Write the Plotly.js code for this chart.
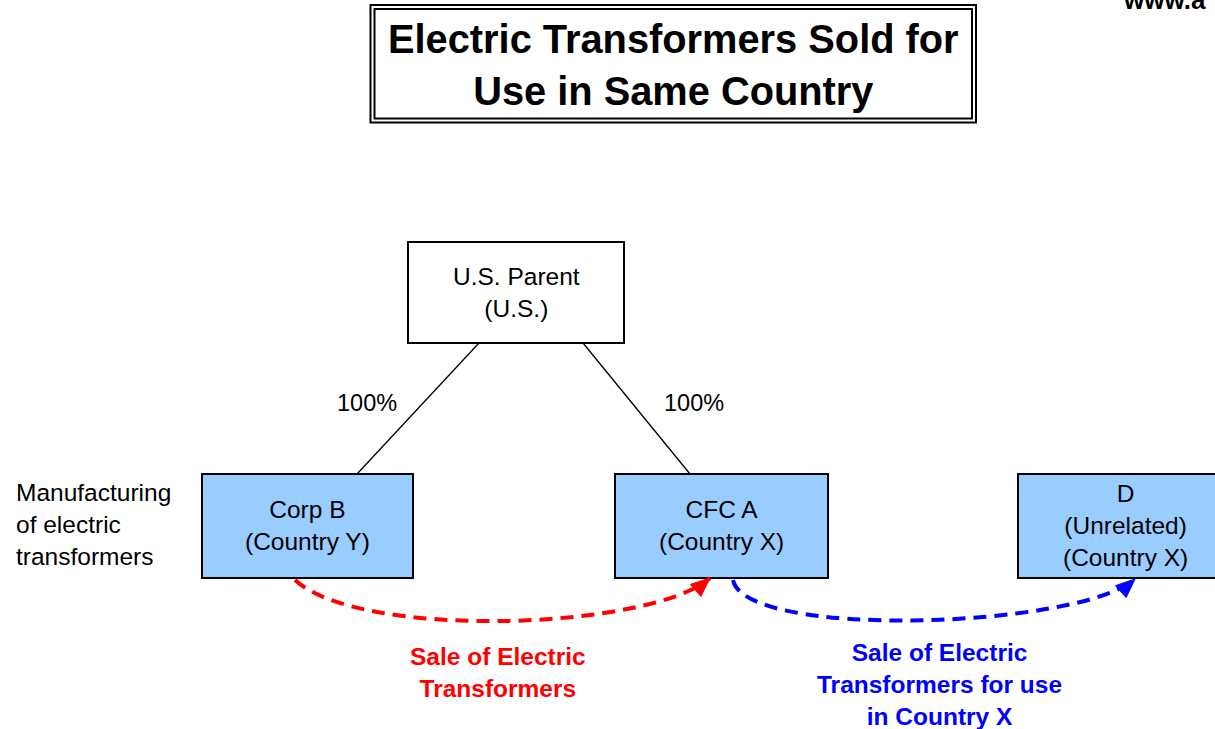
<!DOCTYPE html>
<html>
<head>
<meta charset="utf-8">
<script src="https://cdn.plot.ly/plotly-3.0.1.min.js"></script>
<style>html,body{margin:0;padding:0;background:#fff;}#chart{width:1215px;height:729px;}</style>
</head>
<body>
<div id="chart"></div>
<script>
// ---- content ----
const titleLines = ['Electric Transformers Sold for', 'Use in Same Country'];
const nodeLabels = ['U.S. Parent<br>(U.S.)', 'Corp B<br>(Country Y)', 'CFC A<br>(Country X)', 'D<br>(Unrelated)<br>(Country X)'];
const ownershipLabels = ['100%', '100%'];
const sideNote = ['Manufacturing', 'of electric', 'transformers'];
const flowLabels = ['Sale of Electric<br>Transformers', 'Sale of Electric<br>Transformers for use<br>in Country X'];
const flowColors = ['#ff0000', '#0000ff'];
const watermark = 'www.a';

// ---- layout geometry (pixel-space diagram) ----
const W = 1215, H = 729;
const FONT = 'Liberation Sans, Arial, sans-serif';
const boxes = [
  {x0: 408, x1: 624, y0: 242, y1: 343, fill: '#ffffff', tx: 516},
  {x0: 202, x1: 413, y0: 474, y1: 578, fill: '#99ccff', tx: 307.5},
  {x0: 615, x1: 828, y0: 474, y1: 578, fill: '#99ccff', tx: 721.5},
  {x0: 1018, x1: 1240, y0: 474, y1: 578, fill: '#99ccff', tx: 1125}
];
const connectors = [
  {x0: 479, y0: 343, x1: 357, y1: 474, lx: 367, ly: 403},
  {x0: 583, y0: 343, x1: 690, y1: 474, lx: 694, ly: 403}
];
const curves = [
  {p: [[295, 580], [360, 640], [650, 630], [710, 578]], lx: 498, ly: 672},
  {p: [[733, 580], [745, 640], [1080, 628], [1135, 579]], lx: 939, ly: 684}
];

const shapes = [];
const annotations = [];

// title double-border box
shapes.push({type: 'rect', xref: 'x', yref: 'y', x0: 370.5, x1: 976, y0: 5, y1: 122.5,
  line: {color: '#000', width: 2}, fillcolor: '#fff'});
shapes.push({type: 'rect', xref: 'x', yref: 'y', x0: 374.5, x1: 972, y0: 9, y1: 118.5,
  line: {color: '#000', width: 2}, fillcolor: 'rgba(0,0,0,0)'});
annotations.push({x: 673, y: 64.5, xref: 'x', yref: 'y', showarrow: false,
  text: '<b>' + titleLines.join('<br>') + '</b>',
  font: {family: FONT, size: 39.8, color: '#000'}, align: 'center'});

// connectors
connectors.forEach((c, i) => {
  shapes.push({type: 'line', xref: 'x', yref: 'y', x0: c.x0, y0: c.y0, x1: c.x1, y1: c.y1,
    line: {color: '#000', width: 1.3}});
  annotations.push({x: c.lx, y: c.ly, xref: 'x', yref: 'y', showarrow: false,
    text: ownershipLabels[i], font: {family: FONT, size: 23.5, color: '#000'}});
});

// boxes
boxes.forEach((b, i) => {
  shapes.push({type: 'rect', xref: 'x', yref: 'y', x0: b.x0, x1: b.x1, y0: b.y0, y1: b.y1,
    line: {color: '#000', width: 2}, fillcolor: b.fill});
  annotations.push({x: b.tx, y: (b.y0 + b.y1) / 2 - 0.5, xref: 'x', yref: 'y', showarrow: false,
    text: nodeLabels[i], font: {family: FONT, size: 24.5, color: '#000'}, align: 'center'});
});

// side note
annotations.push({x: 14, y: 524, xref: 'x', yref: 'y', xanchor: 'left', showarrow: false,
  text: sideNote.join('<br>'), align: 'left', font: {family: FONT, size: 24.5, color: '#000'}});

// curved dashed flows with arrowheads
curves.forEach((c, i) => {
  const [p0, p1, p2, p3] = c.p;
  shapes.push({type: 'path', xref: 'x', yref: 'y',
    path: `M ${p0[0]} ${p0[1]} C ${p1[0]} ${p1[1]}, ${p2[0]} ${p2[1]}, ${p3[0]} ${p3[1]}`,
    line: {color: flowColors[i], width: 4, dash: '13px,8px'}});
  let dx = p3[0] - p2[0], dy = p3[1] - p2[1];
  const L = Math.hypot(dx, dy); dx /= L; dy /= L;
  const len = 19, half = 8;
  const bx = p3[0] - len * dx, by = p3[1] - len * dy;
  const nx = -dy, ny = dx;
  shapes.push({type: 'path', xref: 'x', yref: 'y',
    path: `M ${p3[0]} ${p3[1]} L ${bx + half * nx} ${by + half * ny} L ${bx - half * nx} ${by - half * ny} Z`,
    fillcolor: flowColors[i], line: {color: flowColors[i], width: 1}});
  annotations.push({x: c.lx, y: c.ly, xref: 'x', yref: 'y', showarrow: false,
    text: '<b>' + flowLabels[i] + '</b>', align: 'center',
    font: {family: FONT, size: 24.5, color: flowColors[i]}});
});

// cropped watermark at top right (the reference shows it cut by the top edge)
annotations.push({x: 1121, y: 0, xref: 'x', yref: 'y', xanchor: 'left', yanchor: 'middle',
  showarrow: false, text: '<b>' + watermark + '</b>', font: {family: FONT, size: 26, color: '#000'}});

const layout = {
  width: W, height: H,
  margin: {l: 0, r: 0, t: 0, b: 0, pad: 0},
  paper_bgcolor: '#fff', plot_bgcolor: '#fff',
  xaxis: {range: [0, W], visible: false, fixedrange: true},
  yaxis: {range: [H, 0], visible: false, fixedrange: true},
  showlegend: false,
  shapes: shapes,
  annotations: annotations
};

Plotly.newPlot('chart', [], layout, {displayModeBar: false, staticPlot: true});
</script>
</body>
</html>
